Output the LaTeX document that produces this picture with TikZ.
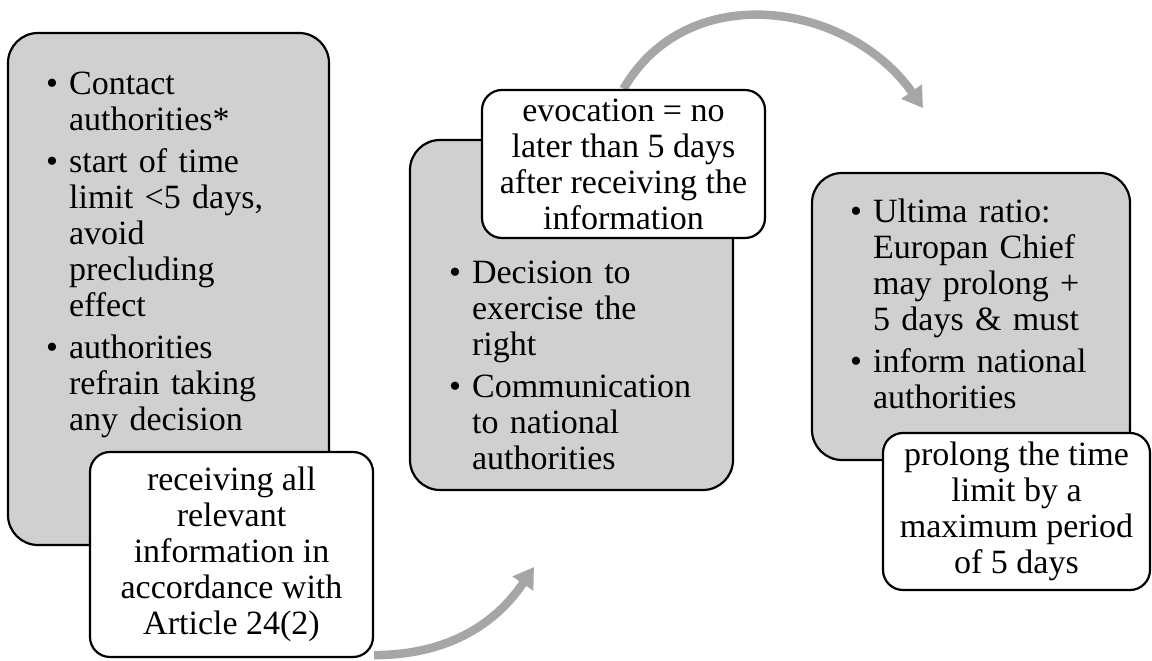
\documentclass[tikz,border=0pt]{standalone}
\usepackage{fontspec}
\setmainfont{Liberation Serif}
\usetikzlibrary{arrows.meta}

\pgfdeclarelayer{background}
\pgfsetlayers{background,main}

\definecolor{stagegray}{HTML}{D0D0D0}
\definecolor{arrowgray}{HTML}{A6A6A6}

\newcommand\stagefont{\fontsize{34}{36}\selectfont\parskip=6pt}
\newcommand\stagept[1]{\hangindent=23pt\hangafter=1\noindent\makebox[23pt][l]{\textbullet}#1\par}

\tikzset{
  stage/.style={draw, line width=2.2pt, fill=stagegray, rounded corners=30pt},
  points/.style={anchor=north west, inner sep=0pt, text width=260pt, align=left, font=\stagefont},
  note/.style={draw, line width=2.2pt, fill=white, rounded corners=20pt, inner sep=3pt, align=center, font=\stagefont},
  flow/.style={arrowgray, line width=8.5pt, -{Triangle[width=24pt,length=20pt]}}
}

\begin{document}
\begin{tikzpicture}[x=1pt,y=1pt]
  \useasboundingbox (0,0) rectangle (1152,661);

  % gray stages
  \node[stage, minimum width=321pt, minimum height=512pt] (s1) at (168.5,372) {};
  \node[stage, minimum width=323pt, minimum height=350pt] (s2) at (571.5,346) {};
  \node[stage, minimum width=318pt, minimum height=287pt] (s3) at (971,344.5) {};

  \node[points] (p1) at ([xshift=39pt,yshift=-39.5pt]s1.north west)
    {\stagept{Contact\newline authorities*}%
     \stagept{start of time\newline limit <5 days,\newline avoid\newline precluding\newline effect}%
     \stagept{authorities\newline refrain taking\newline any decision}};
  \node[points] (p2) at ([xshift=40pt,yshift=-122pt]s2.north west)
    {\stagept{Decision to\newline exercise the\newline right}%
     \stagept{Communication\newline to national\newline authorities}};
  \node[points] (p3) at ([xshift=39pt,yshift=-26.5pt]s3.north west)
    {\stagept{Ultima ratio:\newline Europan Chief\newline may prolong +\newline 5 days \& must}%
     \stagept{inform national\newline authorities}};

  % white notes
  \node[note, minimum width=283pt, minimum height=205pt] (w1) at (231.5,106.5)
    {receiving all\\ relevant\\ information in\\ accordance with\\ Article 24(2)};
  \node[note, minimum width=283pt, minimum height=148pt] (w2) at (623.5,497)
    {evocation = no\\ later than 5 days\\ after receiving the\\ information};
  \node[note, minimum width=267pt, minimum height=157pt] (w3) at (1016.5,149.5)
    {prolong the time\\ limit by a\\ maximum period\\ of 5 days};

  \coordinate (tip1) at (534,94);
  \coordinate (tip2) at (923,553);

  % curved arrows behind the notes
  \begin{pgfonlayer}{background}
    \draw[flow] ([yshift=3pt]w1.south east) to[out=0,in=-124] (tip1);
    \draw[flow] (w2.north) to[out=60,in=125,looseness=1.1] (tip2);
  \end{pgfonlayer}
\end{tikzpicture}
\end{document}
